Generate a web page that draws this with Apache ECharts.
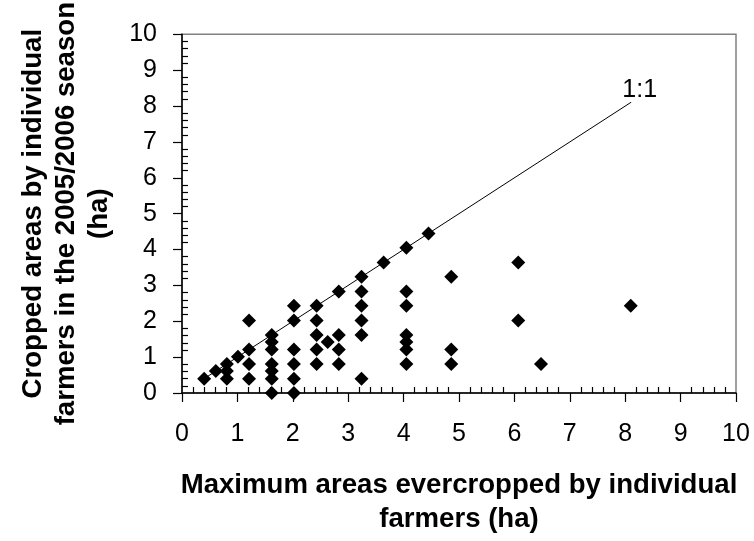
<!DOCTYPE html>
<html><head><meta charset="utf-8">
<script src="https://cdn.jsdelivr.net/npm/echarts@6/dist/echarts.min.js"></script>
<style>html,body{margin:0;padding:0;background:#fff}#c{width:754px;height:541px}</style>
</head><body><div id="c"></div>
<script>
// Scatter points (ha)
const xValues = [0.40, 0.61, 0.81, 0.81, 0.81, 1.01, 1.21, 1.21, 1.21, 1.21,
  1.62, 1.62, 1.62, 1.62, 1.62, 1.62, 1.62,
  2.02, 2.02, 2.02, 2.02, 2.02, 2.02,
  2.43, 2.43, 2.43, 2.43, 2.43, 2.63,
  2.83, 2.83, 2.83, 2.83,
  3.24, 3.24, 3.24, 3.24, 3.24, 3.24, 3.64,
  4.05, 4.05, 4.05, 4.05, 4.05, 4.05, 4.05, 4.45,
  4.86, 4.86, 4.86, 6.07, 6.07, 6.48, 8.10];
const yValues = [0.40, 0.61, 0.81, 0.61, 0.40, 1.01, 2.02, 1.21, 0.81, 0.40,
  1.62, 1.42, 1.21, 0.81, 0.61, 0.40, 0,
  2.43, 2.02, 1.21, 0.81, 0.40, 0,
  2.43, 2.02, 1.62, 1.21, 0.81, 1.42,
  2.83, 1.62, 1.21, 0.81,
  3.24, 2.83, 2.43, 2.02, 1.62, 0.40, 3.64,
  4.05, 2.83, 2.43, 1.62, 1.42, 1.21, 0.81, 4.45,
  3.24, 1.21, 0.81, 3.64, 2.02, 0.81, 2.43];
// 1:1 reference line
const lineX = [0.4, 8.1];
const lineY = [0.4, 8.1];
const lineLabel = '1:1';
// Axes
const axisMin = 0, axisMax = 10, axisStep = 1;
const xTitle = 'Maximum areas evercropped by individual\nfarmers (ha)';
const yTitle = 'Cropped areas by individual\nfarmers in the 2005/2006 season\n(ha)';

const FONT = 'Liberation Sans, Arial, sans-serif';
const scatterData = xValues.map((x, i) => [x, yValues[i]]);
const lineData = lineX.map((x, i) => {
  const item = { value: [x, lineY[i]] };
  if (i === lineX.length - 1) {
    item.label = { show: true, formatter: lineLabel, position: 'top', distance: 0, offset: [9, 1],
      color: '#000', fontFamily: FONT, fontSize: 25 };
  }
  return item;
});

function axis(isX) {
  return {
    type: 'value', min: axisMin, max: axisMax, interval: axisStep,
    name: isX ? xTitle : yTitle,
    nameLocation: 'middle',
    nameGap: isX ? 75 : 66,
    nameRotate: isX ? 0 : 90,
    nameMoveOverlap: false,
    nameTextStyle: { color: '#000', fontFamily: FONT, fontWeight: 'bold', fontSize: 27.6, lineHeight: isX ? 34 : 33 },
    axisLine: { show: true, onZero: false, lineStyle: { color: '#000', width: 1.5 } },
    axisTick: { show: true, inside: false, length: 9, lineStyle: { color: '#000', width: 1.2 } },
    minorTick: { show: true, splitNumber: 5, length: -6, lineStyle: { color: '#000', width: 1.2 } },
    splitLine: { show: false },
    minorSplitLine: { show: false },
    axisLabel: { color: '#000', fontFamily: FONT, fontSize: 25, margin: isX ? 29 : 25 }
  };
}

const chart = echarts.init(document.getElementById('c'), null, { renderer: 'canvas' });
chart.setOption({
  backgroundColor: '#fff',
  animation: false,
  grid: { left: 182, right: 18, top: 34, bottom: 146, show: true, borderColor: '#808080', borderWidth: 1.5, containLabel: false },
  xAxis: axis(true),
  yAxis: axis(false),
  series: [
    { type: 'line', data: lineData, showSymbol: true, symbol: 'circle', symbolSize: 1, z: 1,
      itemStyle: { color: '#000' },
      lineStyle: { color: '#000', width: 1 }, silent: true },
    { type: 'scatter', data: scatterData, symbol: 'diamond', symbolSize: 14, z: 3,
      itemStyle: { color: '#000', opacity: 1 } }
  ]
});
</script></body></html>
